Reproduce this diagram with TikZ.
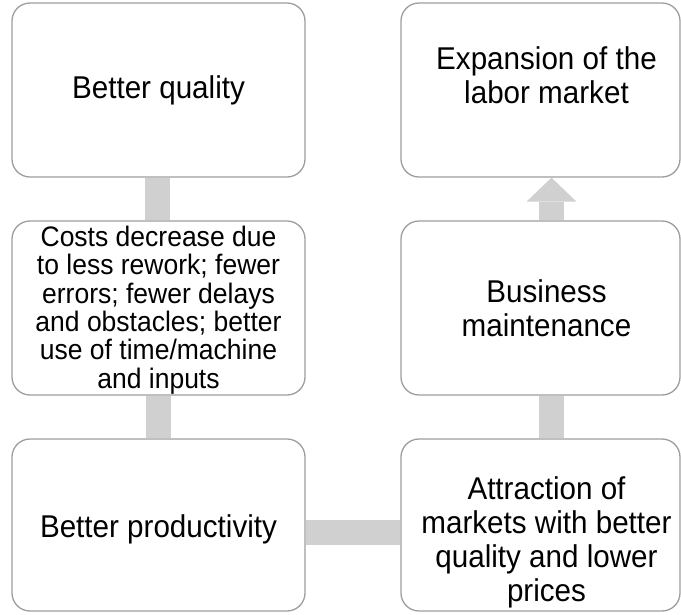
\documentclass[tikz,border=0pt]{standalone}
\usepackage{fontspec}
\setmainfont[FakeStretch=0.94]{Liberation Sans}
\usetikzlibrary{calc}

\definecolor{boxgray}{RGB}{158,158,158}
\definecolor{linkgray}{RGB}{208,208,208}

\tikzset{
  block/.style={draw=boxgray, line width=1.3pt, rounded corners=18pt,
    fill=white, inner sep=0pt, minimum width=#1},
  lblock/.style={block=293pt},
  rblock/.style={block=279pt},
  txt/.style={align=center, inner sep=0pt, font=\fontsize{31.5pt}{34pt}\selectfont},
  smalltxt/.style={align=center, inner sep=0pt, font=\fontsize{28.2pt}{28.3pt}\selectfont},
  link/.style={draw=linkgray, line width=25pt}
}

\begin{document}
\begin{tikzpicture}[x=1pt, y=-1pt]
\useasboundingbox (0,0) rectangle (681,614);

% left column
\node[lblock, minimum height=174pt] (quality) at (158.5,90) {};
\node[lblock, minimum height=174pt] (costs) at (158.5,308) {};
\node[lblock, minimum height=172pt] (prod) at (158.5,525) {};

% right column
\node[rblock, minimum height=174pt] (labor) at (540.5,90) {};
\node[rblock, minimum height=174pt] (maint) at (540.5,308) {};
\node[rblock, minimum height=172pt] (attract) at (540.5,525) {};

% texts
\node[txt] (qualitytext) at (quality) {Better quality};
\node[smalltxt] (coststext) at ([yshift=-2pt]costs.center) {Costs decrease due\\to less rework; fewer\\errors; fewer delays\\and obstacles; better\\use of time/machine\\and inputs};
\node[txt] (prodtext) at ([yshift=-4pt]prod.center) {Better productivity};
\node[txt] (labortext) at ([xshift=6pt,yshift=15pt]labor.center) {Expansion of the\\labor market};
\node[txt] (mainttext) at ([xshift=6pt]maint.center) {Business\\maintenance};
\node[txt] (attracttext) at ([xshift=6pt,yshift=-17pt]attract.center) {Attraction of\\markets with better\\quality and lower\\prices};

% connecting bars
\draw[link] ([xshift=-1.5pt]quality.south) -- ([xshift=-1.5pt]costs.north);
\draw[link] (costs.south) -- (prod.north);
\draw[link] ([yshift=-7pt]prod.east) -- ([yshift=-7pt]attract.west);
\draw[link] ([xshift=11pt]attract.north) -- ([xshift=11pt]maint.south);

% arrow up to the labor market
\draw[link] ([xshift=11pt]maint.north) -- ([xshift=11pt,yshift=-24pt]labor.south);
\fill[linkgray] ([xshift=11pt]labor.south) -- ++(25,24) -- ++(-50,0) -- cycle;
\end{tikzpicture}
\end{document}
